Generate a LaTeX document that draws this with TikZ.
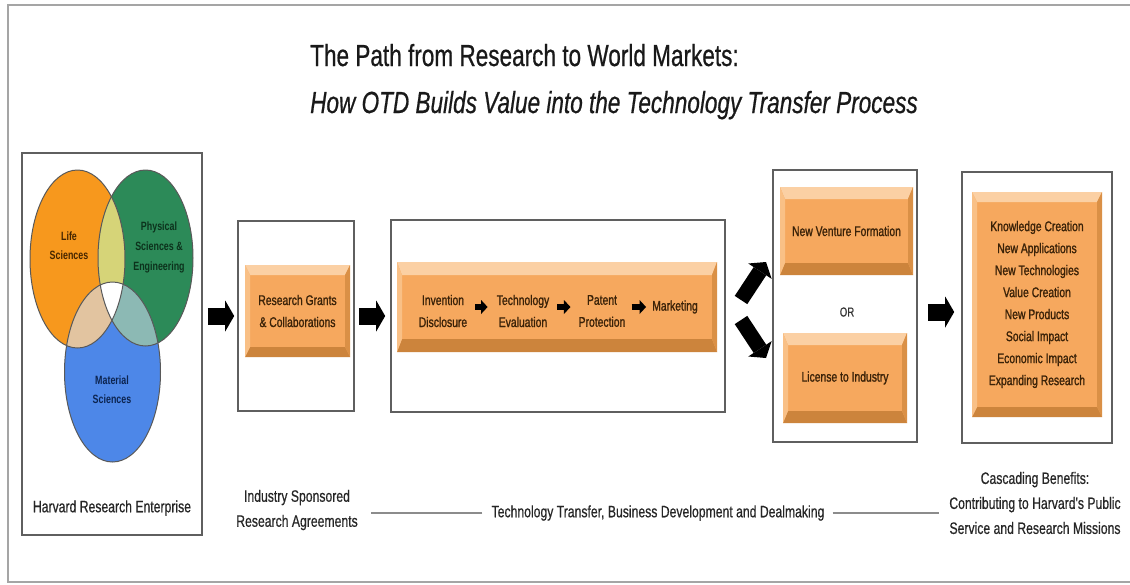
\documentclass[tikz,border=0pt]{standalone}
\usepackage{fontspec}
\setmainfont[FakeStretch=0.74]{Liberation Sans}
\newfontfamily\heavyfam[FakeStretch=0.74,FakeBold=1.2]{Liberation Sans}
\newfontfamily\midfam[FakeStretch=0.74,FakeBold=0.6]{Liberation Sans}
\usetikzlibrary{arrows.meta,calc}
\definecolor{face}{RGB}{246,168,94}
\definecolor{bevtop}{RGB}{251,208,164}
\definecolor{bevleft}{RGB}{249,192,134}
\definecolor{bevbot}{RGB}{204,132,60}
\definecolor{bevright}{RGB}{218,144,70}
\definecolor{boxtext}{RGB}{58,34,8}
\definecolor{frameline}{RGB}{95,95,95}
\definecolor{outerline}{RGB}{165,165,165}
\definecolor{connline}{RGB}{140,140,140}
\definecolor{vorange}{RGB}{247,152,29}
\definecolor{vgreen}{RGB}{44,138,88}
\definecolor{vblue}{RGB}{77,135,232}
\definecolor{vog}{RGB}{214,212,120}
\definecolor{vob}{RGB}{226,196,160}
\definecolor{vgb}{RGB}{140,185,180}
\definecolor{lifetext}{RGB}{70,38,0}
\definecolor{phystext}{RGB}{12,50,28}
\definecolor{mattext}{RGB}{12,36,80}
\newcommand\bxfont{\heavyfam\fontsize{14}{22}\selectfont}
\newcommand\lblfont{\midfam\fontsize{16.5}{25}\selectfont}
\newcommand\vennfont{\fontsize{12}{19}\selectfont\bfseries}
\tikzset{
  panel/.style={draw=frameline, line width=1.6pt, fill=white, inner sep=0pt},
  bevel/.style 2 args={fill=face, inner sep=0pt, text=boxtext, align=center, font=\bxfont,
    path picture={
      \fill[bevtop] (path picture bounding box.north west) -- (path picture bounding box.north east)
        -- ([xshift=-#2pt,yshift=-#1pt]path picture bounding box.north east)
        -- ([xshift=#2pt,yshift=-#1pt]path picture bounding box.north west) -- cycle;
      \fill[bevbot] (path picture bounding box.south west) -- (path picture bounding box.south east)
        -- ([xshift=-#2pt,yshift=#1pt]path picture bounding box.south east)
        -- ([xshift=#2pt,yshift=#1pt]path picture bounding box.south west) -- cycle;
      \fill[bevleft] (path picture bounding box.north west) -- ([xshift=#2pt,yshift=-#1pt]path picture bounding box.north west)
        -- ([xshift=#2pt,yshift=#1pt]path picture bounding box.south west) -- (path picture bounding box.south west) -- cycle;
      \fill[bevright] (path picture bounding box.north east) -- ([xshift=-#2pt,yshift=-#1pt]path picture bounding box.north east)
        -- ([xshift=-#2pt,yshift=#1pt]path picture bounding box.south east) -- (path picture bounding box.south east) -- cycle;
    }},
  intext/.style={inner sep=0pt, text=boxtext, align=center, font=\bxfont},
  label text/.style={inner sep=0pt, align=center, font=\lblfont, text=black!85},
  venn label/.style={inner sep=0pt, align=center, font=\vennfont},
  bigarrow/.style={black, line width=17pt, -{Triangle[length=9pt,width=31pt,line width=0pt]}},
  diagarrow/.style={black, line width=15pt, -{Triangle[length=11pt,width=28pt,line width=0pt]}},
  smallarrow/.style={black, line width=6.5pt, -{Triangle[length=6.5pt,width=14pt,line width=0pt]}},
  connector/.style={draw=connline, line width=1.8pt},
  vennedge/.style={draw=black!65, line width=1pt},
}
\begin{document}
\begin{tikzpicture}[x=1pt,y=-1pt]
\useasboundingbox (0,0) rectangle (1130,584);
% outer frame
\draw[outerline, line width=2pt] (1131,5) -- (8,5) -- (8,582) -- (1131,582);

% title
\node[anchor=base west, inner sep=0pt, font=\midfam\fontsize{30.5}{36}\selectfont, text=black!90] (t1) at (310,66) {The Path from Research to World Markets:};
\node[anchor=base west, inner sep=0pt, font=\midfam\fontsize{30.5}{36}\selectfont\itshape, text=black!90] (t2) at (310,113) {How OTD Builds Value into the Technology Transfer Process};

% panel 1 : Harvard Research Enterprise
\node[panel, minimum width=180pt, minimum height=382pt] (hre) at (112,344) {};
\fill[vorange] (77.5,259) ellipse (47.5 and 89);
\fill[vgreen] (145.5,258) ellipse (47.5 and 88);
\fill[vblue] (112.5,372) ellipse (48 and 90);
\begin{scope}
  \clip (77.5,259) ellipse (47.5 and 89);
  \fill[vog] (145.5,258) ellipse (47.5 and 88);
  \fill[vob] (112.5,372) ellipse (48 and 90);
\end{scope}
\begin{scope}
  \clip (145.5,258) ellipse (47.5 and 88);
  \fill[vgb] (112.5,372) ellipse (48 and 90);
  \clip (77.5,259) ellipse (47.5 and 89);
  \fill[white] (112.5,372) ellipse (48 and 90);
\end{scope}
\draw[vennedge] (77.5,259) ellipse (47.5 and 89);
\draw[vennedge] (145.5,258) ellipse (47.5 and 88);
\draw[vennedge] (112.5,372) ellipse (48 and 90);
\node[venn label, text=lifetext] (life) at (69,246) {Life\\Sciences};
\node[venn label, text=phystext, font=\fontsize{12}{20}\selectfont\bfseries] (phys) at (159,247) {Physical\\Sciences \&\\Engineering};
\node[venn label, text=mattext] (mat) at (112,390) {Material\\Sciences};
\node[label text] (hrelbl) at (112,508) {Harvard Research Enterprise};

% panel 2
\node[panel, minimum width=116pt, minimum height=190pt] (box2) at (296,316) {};
\node[bevel={10}{5}, minimum width=105pt, minimum height=92pt] (rg) at (297.5,311) {Research Grants\\\& Collaborations};

% panel 3
\node[panel, minimum width=334pt, minimum height=192pt] (box3) at (558,316) {};
\node[bevel={13}{5}, minimum width=320pt, minimum height=90pt] (bar) at (557,307) {};
\node[intext] (inv) at (443,311) {Invention\\Disclosure};
\node[intext] (tec) at (523,311) {Technology\\Evaluation};
\node[intext] (pat) at (602,311) {Patent\\Protection};
\node[intext] (mkt) at (675,307) {Marketing};
\draw[smallarrow, shorten <=8pt, shorten >=9pt] (inv.east |- mkt.center) -- (tec.west |- mkt.center);
\draw[smallarrow, shorten <=8pt, shorten >=8pt] (tec.east |- mkt.center) -- (pat.west |- mkt.center);
\draw[smallarrow, shorten <=6pt, shorten >=6pt] (pat.east |- mkt.center) -- (mkt.west);

% panel 4
\node[panel, minimum width=144pt, minimum height=272pt] (box4) at (845,306) {};
\node[bevel={12}{5}, minimum width=133pt, minimum height=88pt] (nvf) at (846.5,231) {New Venture Formation};
\node[bevel={12}{5}, minimum width=124pt, minimum height=90pt] (lic) at (845,378) {License to Industry};
\node[inner sep=0pt, font=\midfam\fontsize{13}{16}\selectfont, text=black!80] (or) at (847,312) {OR};

% panel 5
\node[panel, minimum width=150pt, minimum height=271pt] (box5) at (1037,307.5) {};
\node[bevel={10}{5}, minimum width=130pt, minimum height=225pt] (ben) at (1037,304.5) {Knowledge Creation\\New Applications\\New Technologies\\Value Creation\\New Products\\Social Impact\\Economic Impact\\Expanding Research};

% block arrows
\draw[bigarrow, shorten <=5pt, shorten >=3pt] (box2.west -| hre.east) -- (box2.west);
\draw[bigarrow, shorten <=4pt, shorten >=5pt] (box2.east) -- (box3.west);
\coordinate (d1s) at (741,300);
\coordinate (d1e) at (766,262);
\coordinate (d2s) at (741,320);
\coordinate (d2e) at (766,358);
\draw[diagarrow] (d1s) -- (d1e);
\draw[diagarrow] (d2s) -- (d2e);
\draw[bigarrow, shorten <=10pt, shorten >=7pt] ($(box4.east)+(0,6)$) -- ($(box5.west)+(0,4.5)$);

% bottom labels
\node[label text] (isra) at (297,510) {Industry Sponsored\\Research Agreements};
\node[label text] (tt) at (658,513) {Technology Transfer, Business Development and Dealmaking};
\node[label text] (cb) at (1035,503) {Cascading Benefits:\\Contributing to Harvard's Public\\Service and Research Missions};
\draw[connector, shorten <=9pt, shorten >=13pt] (tt.west) -- (tt.west -| isra.east);
\draw[connector, shorten <=8pt, shorten >=10pt] (tt.east) -- (tt.east -| cb.west);
\end{tikzpicture}
\end{document}
